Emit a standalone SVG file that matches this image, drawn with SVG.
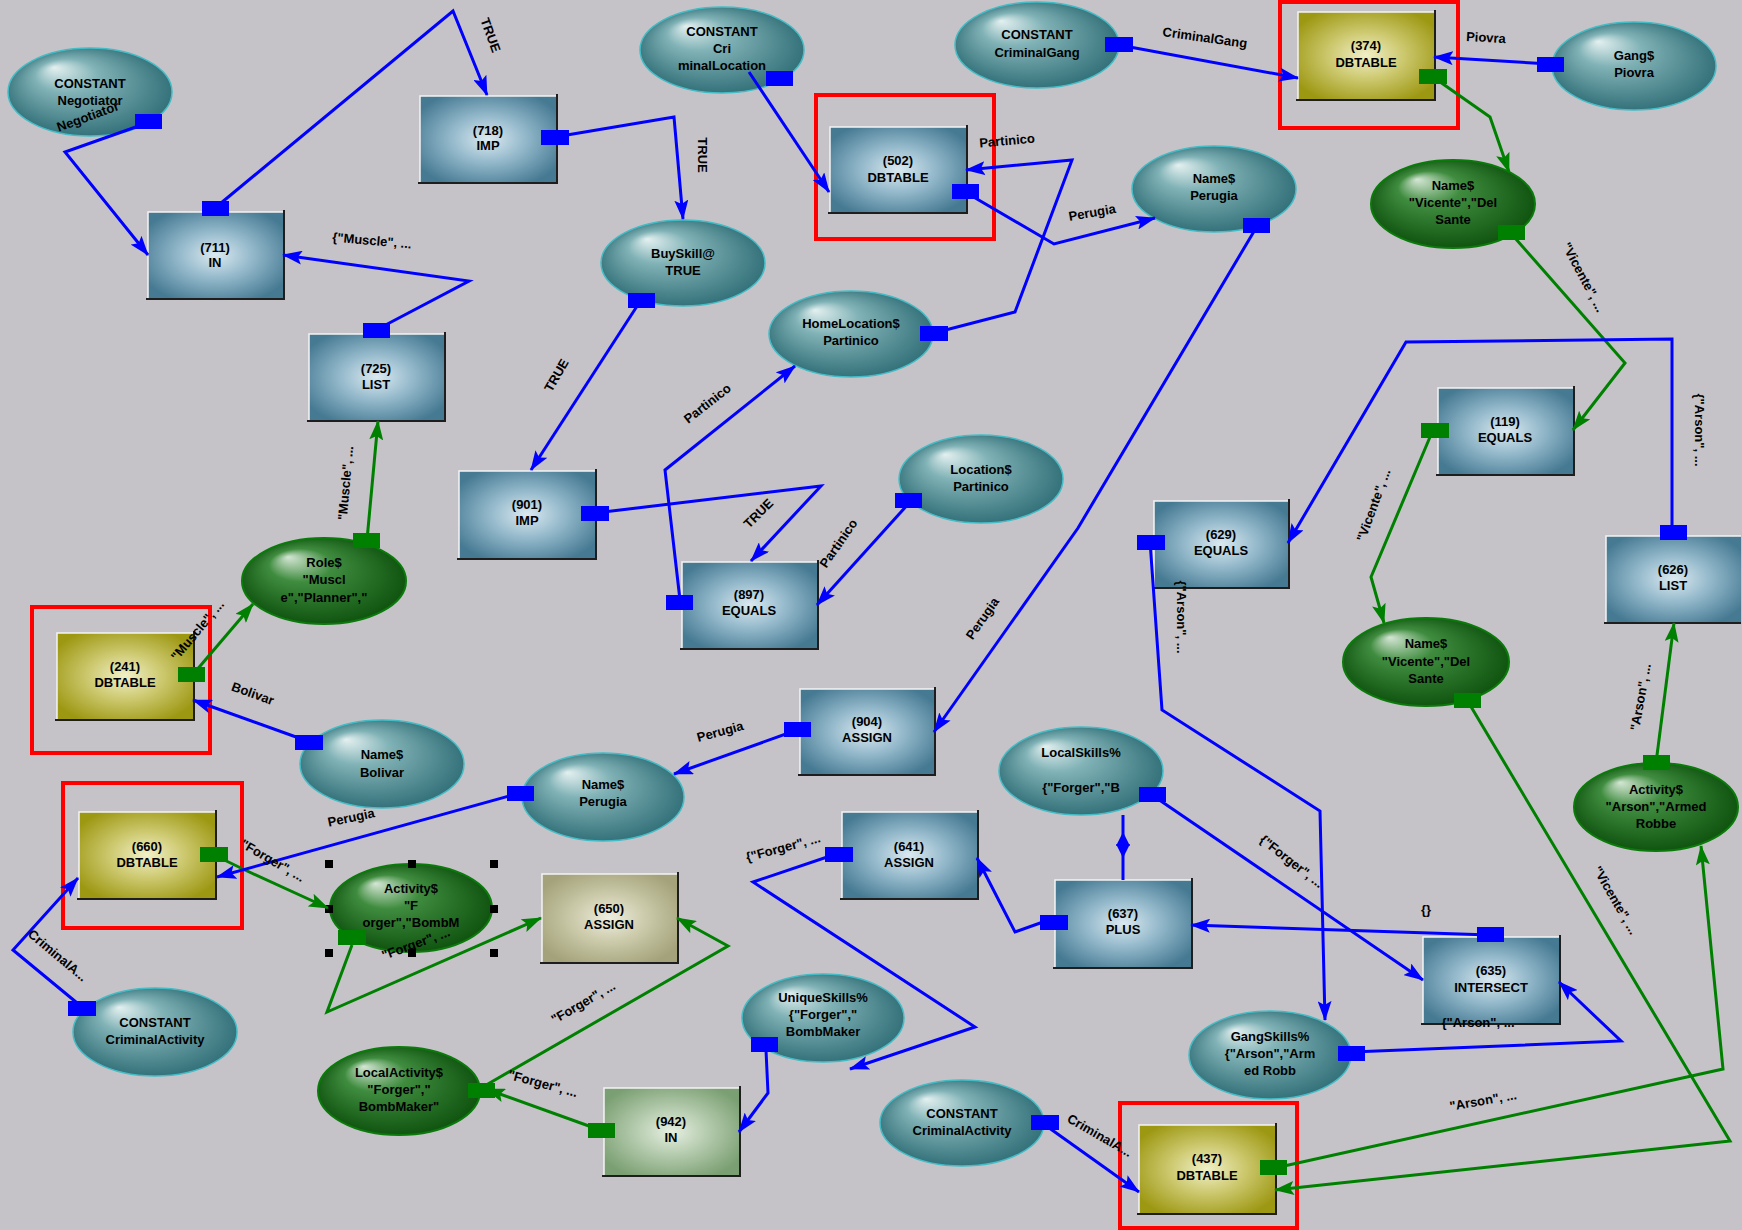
<svg xmlns="http://www.w3.org/2000/svg" width="1742" height="1230" viewBox="0 0 1742 1230">
<style>
.t{font-family:"Liberation Sans",Arial,sans-serif;font-size:13px;font-weight:bold;fill:#000;text-anchor:middle}
.l{font-family:"Liberation Sans",Arial,sans-serif;font-size:13px;font-weight:bold;fill:#000;text-anchor:middle}
.bb{fill:url(#gB)}.bo{fill:url(#gO)}.bk{fill:url(#gK)}.bg{fill:url(#gG)}
.hl{fill:none;stroke:#f4f4f4;stroke-width:1.5}
.sh{fill:none;stroke:#1e1e1e;stroke-width:2}
.et{fill:url(#gT);stroke:#44bcc6;stroke-width:1.5}
.eg{fill:url(#gE);stroke:#0a7a0a;stroke-width:2}
.pb{fill:#0000ff}.pg{fill:#008000}
.cb{fill:none;stroke:#0000ff;stroke-width:3;stroke-linejoin:miter;marker-end:url(#ab)}
.cg{fill:none;stroke:#008000;stroke-width:3;stroke-linejoin:miter;marker-end:url(#ag)}
.red{fill:none;stroke:#ff0000;stroke-width:4}
.hd{fill:#000}
</style>
<defs>
<radialGradient id="gB" cx="50%" cy="50%" r="60%"><stop offset="0" stop-color="#dbe9f0"/><stop offset="0.45" stop-color="#94b9cb"/><stop offset="1" stop-color="#467a93"/></radialGradient>
<radialGradient id="gO" cx="50%" cy="50%" r="60%"><stop offset="0" stop-color="#f0f0c8"/><stop offset="0.45" stop-color="#cdc970"/><stop offset="1" stop-color="#9d9812"/></radialGradient>
<radialGradient id="gK" cx="50%" cy="50%" r="60%"><stop offset="0" stop-color="#eeeee0"/><stop offset="0.45" stop-color="#cbcaaa"/><stop offset="1" stop-color="#a3a27a"/></radialGradient>
<radialGradient id="gG" cx="50%" cy="50%" r="60%"><stop offset="0" stop-color="#e6efe2"/><stop offset="0.45" stop-color="#b4cbad"/><stop offset="1" stop-color="#7a9f72"/></radialGradient>
<radialGradient id="gT" cx="50%" cy="50%" r="55%" fx="28%" fy="22%"><stop offset="0" stop-color="#e4f0f0"/><stop offset="0.35" stop-color="#80b2b6"/><stop offset="1" stop-color="#2d6b74"/></radialGradient>
<radialGradient id="gE" cx="50%" cy="50%" r="55%" fx="28%" fy="22%"><stop offset="0" stop-color="#d4e6d4"/><stop offset="0.35" stop-color="#3f8c3f"/><stop offset="1" stop-color="#0b4e0b"/></radialGradient>
<marker id="ab" viewBox="0 0 20 14" markerWidth="20" markerHeight="14" refX="19" refY="7" orient="auto" markerUnits="userSpaceOnUse"><path d="M0,0 L20,7 L0,14 L4,7 z" fill="#0000ff"/></marker>
<marker id="ag" viewBox="0 0 20 14" markerWidth="20" markerHeight="14" refX="19" refY="7" orient="auto" markerUnits="userSpaceOnUse"><path d="M0,0 L20,7 L0,14 L4,7 z" fill="#008000"/></marker>
</defs>
<rect x="0" y="0" width="1742" height="1230" fill="#c5c3c8"/>

<g id="nodes">
<g id="n-const-negotiator"><ellipse class="et" cx="90" cy="92" rx="82" ry="44"/><text class="t" x="90" y="88">CONSTANT</text><text class="t" x="90" y="105">Negotiator</text><text class="t" transform="rotate(-20 88 117)" x="88" y="121">Negotiator</text><rect class="pb" x="135" y="114" width="27" height="15"/></g>
<g id="n711"><rect class="bb" x="148" y="212" width="135" height="86"/><polyline class="hl" points="148,298 148,212 283,212"/><polyline class="sh" points="146,299 284,299 284,210"/><text class="t" x="215" y="252">(711)</text><text class="t" x="215" y="267">IN</text><rect class="pb" x="202" y="201" width="27" height="15"/></g>
<g id="n725"><rect class="bb" x="309" y="334" width="135" height="86"/><polyline class="hl" points="309,420 309,334 444,334"/><polyline class="sh" points="307,421 445,421 445,332"/><text class="t" x="376" y="373">(725)</text><text class="t" x="376" y="389">LIST</text><rect class="pb" x="363" y="323" width="27" height="15"/></g>
<g id="n718"><rect class="bb" x="420" y="96" width="136" height="86"/><polyline class="hl" points="420,182 420,96 556,96"/><polyline class="sh" points="418,183 557,183 557,94"/><text class="t" x="488" y="135">(718)</text><text class="t" x="488" y="150">IMP</text><rect class="pb" x="541" y="130" width="28" height="15"/></g>
<g id="n-const-crimloc"><ellipse class="et" cx="722" cy="50" rx="82" ry="43"/><text class="t" x="722" y="36">CONSTANT</text><text class="t" x="722" y="53">Cri</text><text class="t" x="722" y="70">minalLocation</text><rect class="pb" x="766" y="71" width="27" height="15"/></g>
<g id="n-buyskill"><ellipse class="et" cx="683" cy="263" rx="82" ry="43"/><text class="t" x="683" y="258">BuySkill@</text><text class="t" x="683" y="275">TRUE</text><rect class="pb" x="628" y="293" width="27" height="15"/></g>
<g id="n502"><rect class="bb" x="830" y="127" width="136" height="85"/><polyline class="hl" points="830,212 830,127 966,127"/><polyline class="sh" points="828,213 967,213 967,125"/><text class="t" x="898" y="165">(502)</text><text class="t" x="898" y="182">DBTABLE</text><rect class="pb" x="952" y="184" width="27" height="15"/><rect class="red" x="816" y="95" width="178" height="144"/></g>
<g id="n-const-gang"><ellipse class="et" cx="1037" cy="45" rx="82" ry="43"/><text class="t" x="1037" y="39">CONSTANT</text><text class="t" x="1037" y="57">CriminalGang</text><rect class="pb" x="1105" y="37" width="28" height="15"/></g>
<g id="n374"><rect class="bo" x="1298" y="12" width="136" height="87"/><polyline class="hl" points="1298,99 1298,12 1434,12"/><polyline class="sh" points="1296,100 1435,100 1435,10"/><text class="t" x="1366" y="50">(374)</text><text class="t" x="1366" y="67">DBTABLE</text><rect class="pg" x="1419" y="69" width="28" height="15"/><rect class="red" x="1280" y="2" width="178" height="126"/></g>
<g id="n-gang-piovra"><ellipse class="et" cx="1634" cy="66" rx="82" ry="44"/><text class="t" x="1634" y="60">Gang$</text><text class="t" x="1634" y="77">Piovra</text><rect class="pb" x="1537" y="57" width="27" height="15"/></g>
<g id="n-name-vicente1"><ellipse class="eg" cx="1453" cy="204" rx="82" ry="44"/><text class="t" x="1453" y="190">Name$</text><text class="t" x="1453" y="207">"Vicente","Del</text><text class="t" x="1453" y="224">Sante</text><rect class="pg" x="1498" y="225" width="27" height="15"/></g>
<g id="n-name-perugia1"><ellipse class="et" cx="1214" cy="189" rx="82" ry="43"/><text class="t" x="1214" y="183">Name$</text><text class="t" x="1214" y="200">Perugia</text><rect class="pb" x="1243" y="218" width="27" height="15"/></g>
<g id="n-homeloc"><ellipse class="et" cx="851" cy="334" rx="82" ry="43"/><text class="t" x="851" y="328">HomeLocation$</text><text class="t" x="851" y="345">Partinico</text><rect class="pb" x="920" y="326" width="28" height="15"/></g>
<g id="n119"><rect class="bb" x="1438" y="388" width="135" height="86"/><polyline class="hl" points="1438,474 1438,388 1573,388"/><polyline class="sh" points="1436,475 1574,475 1574,386"/><text class="t" x="1505" y="426">(119)</text><text class="t" x="1505" y="442">EQUALS</text><rect class="pg" x="1421" y="423" width="28" height="15"/></g>
<g id="n629"><rect class="bb" x="1154" y="501" width="134" height="86"/><polyline class="hl" points="1154,587 1154,501 1288,501"/><polyline class="sh" points="1152,588 1289,588 1289,499"/><text class="t" x="1221" y="539">(629)</text><text class="t" x="1221" y="555">EQUALS</text><rect class="pb" x="1137" y="535" width="28" height="15"/></g>
<g id="n626"><rect class="bb" x="1606" y="536" width="135" height="86"/><polyline class="hl" points="1606,622 1606,536 1741,536"/><polyline class="sh" points="1604,623 1741,623"/><text class="t" x="1673" y="574">(626)</text><text class="t" x="1673" y="590">LIST</text><rect class="pb" x="1660" y="525" width="27" height="15"/></g>
<g id="n901"><rect class="bb" x="459" y="471" width="136" height="87"/><polyline class="hl" points="459,558 459,471 595,471"/><polyline class="sh" points="457,559 596,559 596,469"/><text class="t" x="527" y="509">(901)</text><text class="t" x="527" y="525">IMP</text><rect class="pb" x="581" y="506" width="28" height="15"/></g>
<g id="n897"><rect class="bb" x="682" y="562" width="135" height="86"/><polyline class="hl" points="682,648 682,562 817,562"/><polyline class="sh" points="680,649 818,649 818,560"/><text class="t" x="749" y="599">(897)</text><text class="t" x="749" y="615">EQUALS</text><rect class="pb" x="666" y="595" width="27" height="15"/></g>
<g id="n-locpart"><ellipse class="et" cx="981" cy="479" rx="82" ry="44"/><text class="t" x="981" y="474">Location$</text><text class="t" x="981" y="491">Partinico</text><rect class="pb" x="895" y="493" width="27" height="15"/></g>
<g id="n241"><rect class="bo" x="57" y="633" width="136" height="86"/><polyline class="hl" points="57,719 57,633 193,633"/><polyline class="sh" points="55,720 194,720 194,631"/><text class="t" x="125" y="671">(241)</text><text class="t" x="125" y="687">DBTABLE</text><rect class="pg" x="178" y="667" width="27" height="15"/><rect class="red" x="32" y="607" width="178" height="146"/></g>
<g id="n-role"><ellipse class="eg" cx="324" cy="581" rx="82" ry="43"/><text class="t" x="324" y="567">Role$</text><text class="t" x="324" y="584">"Muscl</text><text class="t" x="324" y="602">e","Planner","</text><rect class="pg" x="353" y="533" width="27" height="15"/></g>
<g id="n-bolivar"><ellipse class="et" cx="382" cy="764" rx="82" ry="44"/><text class="t" x="382" y="759">Name$</text><text class="t" x="382" y="777">Bolivar</text><rect class="pb" x="295" y="735" width="28" height="15"/></g>
<g id="n904"><rect class="bb" x="800" y="689" width="134" height="85"/><polyline class="hl" points="800,774 800,689 934,689"/><polyline class="sh" points="798,775 935,775 935,687"/><text class="t" x="867" y="726">(904)</text><text class="t" x="867" y="742">ASSIGN</text><rect class="pb" x="784" y="722" width="27" height="15"/></g>
<g id="n-name-perugia2"><ellipse class="et" cx="603" cy="797" rx="81" ry="44"/><text class="t" x="603" y="789">Name$</text><text class="t" x="603" y="806">Perugia</text><rect class="pb" x="507" y="786" width="27" height="15"/></g>
<g id="n-name-vicente2"><ellipse class="eg" cx="1426" cy="662" rx="83" ry="44"/><text class="t" x="1426" y="648">Name$</text><text class="t" x="1426" y="666">"Vicente","Del</text><text class="t" x="1426" y="683">Sante</text><rect class="pg" x="1454" y="693" width="27" height="15"/></g>
<g id="n-activity-arson"><ellipse class="eg" cx="1656" cy="807" rx="82" ry="44"/><text class="t" x="1656" y="794">Activity$</text><text class="t" x="1656" y="811">"Arson","Armed</text><text class="t" x="1656" y="828">Robbe</text><rect class="pg" x="1643" y="755" width="27" height="15"/></g>
<g id="n-localskills"><ellipse class="et" cx="1081" cy="771" rx="82" ry="44"/><text class="t" x="1081" y="757">LocalSkills%</text><text class="t" x="1081" y="792">{"Forger","B</text><rect class="pb" x="1139" y="787" width="27" height="15"/></g>
<g id="n641"><rect class="bb" x="842" y="812" width="135" height="86"/><polyline class="hl" points="842,898 842,812 977,812"/><polyline class="sh" points="840,899 978,899 978,810"/><text class="t" x="909" y="851">(641)</text><text class="t" x="909" y="867">ASSIGN</text><rect class="pb" x="825" y="847" width="28" height="15"/></g>
<g id="n637"><rect class="bb" x="1055" y="880" width="136" height="87"/><polyline class="hl" points="1055,967 1055,880 1191,880"/><polyline class="sh" points="1053,968 1192,968 1192,878"/><text class="t" x="1123" y="918">(637)</text><text class="t" x="1123" y="934">PLUS</text><rect class="pb" x="1040" y="915" width="28" height="15"/></g>
<g id="n635"><rect class="bb" x="1423" y="937" width="136" height="86"/><polyline class="hl" points="1423,1023 1423,937 1559,937"/><polyline class="sh" points="1421,1024 1560,1024 1560,935"/><text class="t" x="1491" y="975">(635)</text><text class="t" x="1491" y="992">INTERSECT</text><rect class="pb" x="1477" y="927" width="27" height="15"/></g>
<g id="n-gangskills"><ellipse class="et" cx="1270" cy="1055" rx="81" ry="44"/><text class="t" x="1270" y="1041">GangSkills%</text><text class="t" x="1270" y="1058">{"Arson","Arm</text><text class="t" x="1270" y="1075">ed Robb</text><rect class="pb" x="1338" y="1046" width="27" height="15"/></g>
<g id="n660"><rect class="bo" x="79" y="812" width="136" height="86"/><polyline class="hl" points="79,898 79,812 215,812"/><polyline class="sh" points="77,899 216,899 216,810"/><text class="t" x="147" y="851">(660)</text><text class="t" x="147" y="867">DBTABLE</text><rect class="pg" x="200" y="847" width="28" height="15"/><rect class="red" x="63" y="783" width="179" height="145"/></g>
<g id="n-activity-forger"><ellipse class="eg" cx="411" cy="908" rx="81" ry="44"/><text class="t" x="411" y="893">Activity$</text><text class="t" x="411" y="910">"F</text><text class="t" x="411" y="927">orger","BombM</text><text class="t" transform="rotate(-20 416 944)" x="416" y="948">"Forger", ...</text><rect class="pg" x="338" y="930" width="28" height="15"/>
<rect class="hd" x="325" y="860" width="8" height="8"/><rect class="hd" x="408" y="860" width="8" height="8"/><rect class="hd" x="490" y="860" width="8" height="8"/><rect class="hd" x="325" y="905" width="8" height="8"/><rect class="hd" x="490" y="905" width="8" height="8"/><rect class="hd" x="325" y="949" width="8" height="8"/><rect class="hd" x="408" y="949" width="8" height="8"/><rect class="hd" x="490" y="949" width="8" height="8"/></g>
<g id="n650"><rect class="bk" x="542" y="874" width="135" height="88"/><polyline class="hl" points="542,962 542,874 677,874"/><polyline class="sh" points="540,963 678,963 678,872"/><text class="t" x="609" y="913">(650)</text><text class="t" x="609" y="929">ASSIGN</text></g>
<g id="n-const-crimact-left"><ellipse class="et" cx="155" cy="1032" rx="82" ry="44"/><text class="t" x="155" y="1027">CONSTANT</text><text class="t" x="155" y="1044">CriminalActivity</text><rect class="pb" x="68" y="1001" width="28" height="15"/></g>
<g id="n-localactivity"><ellipse class="eg" cx="399" cy="1091" rx="81" ry="44"/><text class="t" x="399" y="1077">LocalActivity$</text><text class="t" x="399" y="1094">"Forger","</text><text class="t" x="399" y="1111">BombMaker"</text><rect class="pg" x="468" y="1083" width="27" height="15"/></g>
<g id="n-uniqueskills"><ellipse class="et" cx="823" cy="1018" rx="81" ry="44"/><text class="t" x="823" y="1002">UniqueSkills%</text><text class="t" x="823" y="1019">{"Forger","</text><text class="t" x="823" y="1036">BombMaker</text><rect class="pb" x="751" y="1037" width="27" height="15"/></g>
<g id="n942"><rect class="bg" x="604" y="1088" width="135" height="87"/><polyline class="hl" points="604,1175 604,1088 739,1088"/><polyline class="sh" points="602,1176 740,1176 740,1086"/><text class="t" x="671" y="1126">(942)</text><text class="t" x="671" y="1142">IN</text><rect class="pg" x="588" y="1123" width="27" height="15"/></g>
<g id="n-const-crimact-mid"><ellipse class="et" cx="962" cy="1123" rx="82" ry="43"/><text class="t" x="962" y="1118">CONSTANT</text><text class="t" x="962" y="1135">CriminalActivity</text><rect class="pb" x="1031" y="1115" width="28" height="15"/></g>
<g id="n437"><rect class="bo" x="1139" y="1125" width="136" height="88"/><polyline class="hl" points="1139,1213 1139,1125 1275,1125"/><polyline class="sh" points="1137,1214 1276,1214 1276,1123"/><text class="t" x="1207" y="1163">(437)</text><text class="t" x="1207" y="1180">DBTABLE</text><rect class="pg" x="1260" y="1160" width="27" height="15"/><rect class="red" x="1120" y="1103" width="177" height="125"/></g>
</g>

<g id="connectors">
<polyline class="cb" points="150,122 65,152 148,255"/>
<polyline class="cb" points="215,208 453,11 487,95"/>
<polyline class="cb" points="555,137 674,117 683,219"/>
<polyline class="cb" points="641,300 531,470"/>
<polyline class="cb" points="376,330 469,281 283,255"/>
<polyline class="cg" points="367,540 378,421"/>
<polyline class="cg" points="195,672 253,604"/>
<polyline class="cb" points="310,742 193,700"/>
<polyline class="cb" points="749,72 829,192"/>
<polyline class="cb" points="934,333 1015,312 1072,160 966,170"/>
<polyline class="cb" points="965,192 1054,244 1155,218"/>
<polyline class="cb" points="1119,45 1298,78"/>
<polyline class="cb" points="1550,64 1434,57"/>
<polyline class="cg" points="1433,77 1490,117 1509,172"/>
<polyline class="cg" points="1515,238 1625,363 1573,430"/>
<polyline class="cb" points="1256,228 1078,528 934,732"/>
<polyline class="cb" points="1672,531 1672,339 1406,342 1288,543"/>
<polyline class="cg" points="1430,437 1371,577 1384,623"/>
<polyline class="cg" points="1470,705 1730,1141 1275,1190"/>
<polyline class="cg" points="1656,763 1674,623"/>
<polyline class="cg" points="1275,1168 1723,1069 1701,846"/>
<polyline class="cb" points="1150,541 1162,710 1320,811 1325,1020"/>
<polyline class="cb" points="1152,795 1423,980"/>
<polyline class="cb" points="1490,935 1191,925"/>
<polyline class="cb" points="1352,1052 1621,1041 1559,982"/>
<polyline class="cb" points="1043,922 1015,932 977,858"/>
<line x1="1123" y1="815" x2="1123" y2="880" stroke="#0000ff" stroke-width="3"/>
<polygon points="1123,832 1116,846 1130,846" fill="#0000ff"/><polygon points="1123,858 1116,844 1130,844" fill="#0000ff"/>
<polyline class="cb" points="839,853 753,882 975,1027 850,1069"/>
<polyline class="cb" points="766,1050 768,1093 739,1132"/>
<polyline class="cg" points="600,1130 486,1089"/>
<polyline class="cg" points="481,1088 728,946 677,918"/>
<polyline class="cg" points="352,945 327,1012 541,918"/>
<polyline class="cg" points="214,855 245,870 328,908"/>
<polyline class="cb" points="520,793 217,877"/>
<polyline class="cb" points="82,1007 13,950 78,878"/>
<polyline class="cb" points="1045,1125 1139,1192"/>
<polyline class="cb" points="595,513 821,486 751,561"/>
<polyline class="cb" points="680,600 665,470 795,366"/>
<polyline class="cb" points="910,502 817,605"/>
<polyline class="cb" points="797,730 674,774"/>

<text class="l" transform="rotate(70 491 35)" x="491" y="40">TRUE</text>
<text class="l" transform="rotate(90 703 155)" x="703" y="160">TRUE</text>
<text class="l" transform="rotate(-60 556 375)" x="556" y="380">TRUE</text>
<text class="l" transform="rotate(5 372 240)" x="372" y="245">{"Muscle", ...</text>
<text class="l" transform="rotate(-85 345 483)" x="345" y="488">"Muscle", ...</text>
<text class="l" transform="rotate(-50 197 630)" x="197" y="635">"Muscle", ...</text>
<text class="l" transform="rotate(20 253 693)" x="253" y="698">Bolivar</text>
<text class="l" transform="rotate(-5 1007 140)" x="1007" y="145">Partinico</text>
<text class="l" transform="rotate(-10 1092 212)" x="1092" y="217">Perugia</text>
<text class="l" transform="rotate(8 1205 37)" x="1205" y="42">CriminalGang</text>
<text class="l" transform="rotate(3 1486 37)" x="1486" y="42">Piovra</text>
<text class="l" transform="rotate(62 1584 277)" x="1584" y="282">"Vicente", ...</text>
<text class="l" transform="rotate(-55 982 618)" x="982" y="623">Perugia</text>
<text class="l" transform="rotate(90 1700 430)" x="1700" y="435">{"Arson", ...</text>
<text class="l" transform="rotate(-70 1373 505)" x="1373" y="510">"Vicente", ...</text>
<text class="l" transform="rotate(60 1616 900)" x="1616" y="905">"Vicente", ...</text>
<text class="l" transform="rotate(-80 1640 697)" x="1640" y="702">"Arson", ...</text>
<text class="l" transform="rotate(-10 1483 1100)" x="1483" y="1105">"Arson", ...</text>
<text class="l" transform="rotate(90 1182 617)" x="1182" y="622">{"Arson", ...</text>
<text class="l" transform="rotate(38 1292 861)" x="1292" y="866">{"Forger", ...</text>
<text class="l" x="1426" y="914">{}</text>
<text class="l" x="1478" y="1027">{"Arson", ...</text>
<text class="l" transform="rotate(-15 783 847)" x="783" y="852">{"Forger", ...</text>
<text class="l" transform="rotate(15 543 1083)" x="543" y="1088">"Forger", ...</text>
<text class="l" transform="rotate(-30 583 1002)" x="583" y="1007">"Forger", ...</text>
<text class="l" transform="rotate(30 273 860)" x="273" y="865">"Forger", ...</text>
<text class="l" transform="rotate(-12 351 817)" x="351" y="822">Perugia</text>
<text class="l" transform="rotate(40 58 955)" x="58" y="960">CriminalA...</text>
<text class="l" transform="rotate(30 1100 1135)" x="1100" y="1140">CriminalA...</text>
<text class="l" transform="rotate(-45 758 513)" x="758" y="518">TRUE</text>
<text class="l" transform="rotate(-38 707 403)" x="707" y="408">Partinico</text>
<text class="l" transform="rotate(-55 838 543)" x="838" y="548">Partinico</text>
<text class="l" transform="rotate(-15 720 731)" x="720" y="736">Perugia</text>
</g>
</svg>
